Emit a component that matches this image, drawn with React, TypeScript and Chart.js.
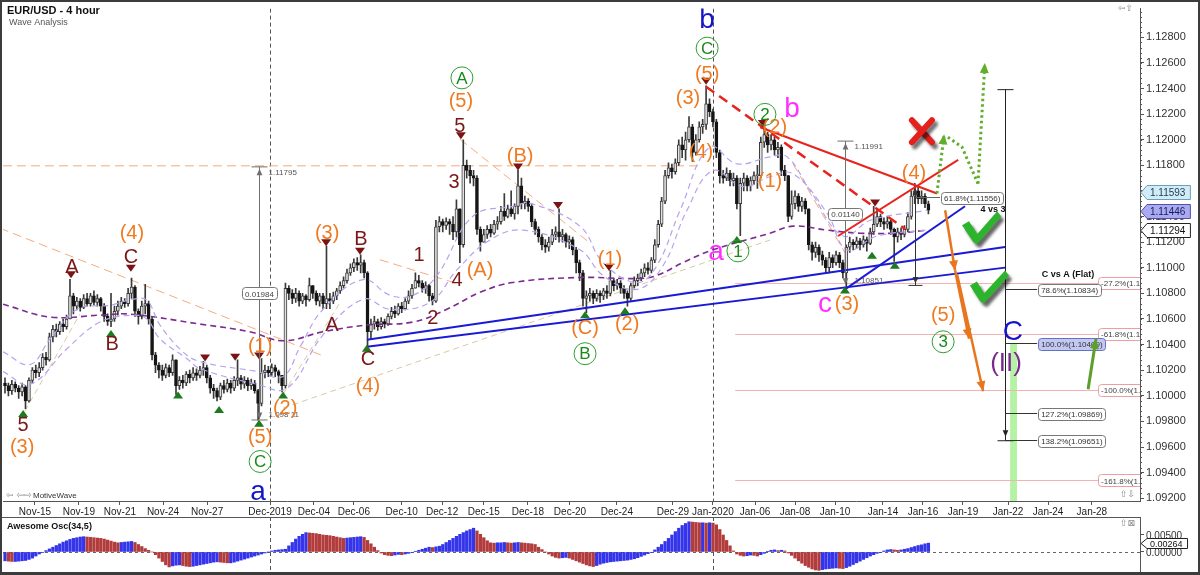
import React, { useEffect, useRef } from "react";
import { Chart, registerables } from "chart.js";

Chart.register(...registerables);

// ---------------- DATA (prices in pips above 1.10000) ----------------
const BASE = 1.1;
const PIP = 0.0001;
const FIRST_OPEN = 10;

const CLOSE = [
  8, 4, 9, 6, 3, 7, -4, 12, 20, 18,
  22, 30, 28, 46, 52, 50, 56, 54, 60, 78,
  70, 74, 69, 76, 72, 78, 73, 76, 70, 62,
  58, 60, 66, 70, 74, 72, 80, 85, 66, 62,
  70, 72, 60, 32, 24, 20, 16, 22, 18, 28,
  8, 12, 10, 17, 14, 18, 16, 20, 22, 14,
  6, 4, -1, 8, 5, 10, 6, 12, 14, 9,
  12, 8, 10, 4, -6, 18, 20, 18, 22, 19,
  16, 8, 84, 80, 76, 80, 74, 78, 75, 86,
  80, 74, 78, 72, 76, 74, 78, 82, 86, 90,
  96, 100, 104, 102, 104, 96, 50, 56, 58, 54,
  58, 56, 62, 66, 64, 70, 68, 74, 78, 84,
  90, 88, 84, 86, 78, 74, 132, 136, 133, 136,
  134, 128, 146, 118, 180, 176, 172, 170, 130, 120,
  126, 130, 127, 134, 136, 144, 140, 146, 142, 148,
  164, 150, 152, 148, 136, 130, 124, 118, 116, 120,
  126, 128, 124, 126, 120, 122, 114, 104, 96, 76,
  78, 80, 76, 80, 78, 82, 80, 90, 86, 88,
  84, 80, 76, 86, 90, 92, 96, 100, 98, 106,
  118, 134, 152, 172, 178, 175, 182, 196, 192, 200,
  210, 190, 200, 210, 212, 228, 222, 214, 190, 172,
  170, 174, 168, 170, 150, 166, 170, 164, 168, 172,
  172, 198, 204, 196, 200, 192, 194, 176, 172, 140,
  150, 156, 148, 152, 146, 118, 112, 116, 110, 106,
  100, 108, 104, 110, 104, 96, 116, 120, 118, 121,
  118, 122, 119, 128, 134, 140, 136, 134, 136, 130,
  124, 128, 126, 130, 140, 156, 160, 154, 156, 150, 145,
];
const HIGH = [
  14, 10, 12, 11, 8, 10, 8, 14, 22, 24,
  26, 33, 34, 49, 55, 56, 58, 60, 63, 91,
  80, 77, 76, 79, 80, 80, 82, 79, 77, 72,
  64, 80, 70, 74, 77, 76, 84, 92, 86, 68,
  74, 87, 74, 62, 34, 26, 24, 25, 24, 32,
  28, 15, 16, 19, 20, 22, 21, 23, 27, 24,
  16, 9, 6, 10, 12, 13, 12, 15, 28, 16,
  15, 14, 13, 12, 5, 29, 24, 23, 25, 24,
  20, 16, 88, 86, 83, 84, 82, 80, 79, 92,
  84, 82, 80, 80, 117, 80, 81, 84, 89, 93,
  99, 103, 107, 108, 110, 106, 97, 60, 62, 60,
  61, 60, 64, 69, 70, 72, 73, 76, 82, 87,
  96, 94, 90, 89, 87, 80, 137, 140, 138, 139,
  138, 140, 153, 146, 200, 184, 180, 176, 172, 132,
  130, 133, 134, 137, 140, 148, 158, 149, 160, 150,
  176, 170, 156, 154, 150, 138, 132, 126, 122, 124,
  130, 132, 146, 130, 127, 125, 124, 116, 106, 98,
  82, 84, 82, 83, 82, 84, 86, 98, 92, 91,
  90, 86, 82, 88, 93, 95, 99, 103, 104, 108,
  122, 137, 155, 176, 182, 181, 185, 200, 202, 206,
  218, 212, 204, 214, 216, 242, 232, 224, 216, 192,
  176, 178, 176, 174, 172, 170, 174, 172, 171, 175,
  180, 202, 210, 206, 204, 202, 198, 196, 180, 172,
  160, 160, 158, 155, 154, 146, 120, 120, 118, 113,
  108, 112, 110, 113, 112, 106, 118, 124, 122, 124,
  123, 125, 124, 131, 148, 146, 142, 139, 140, 138,
  131, 131, 131, 133, 143, 160, 166, 163, 160, 158, 152,
];
const LOW = [
  2, 0, 1, 3, -2, 0, -10, -5, 10, 14,
  15, 20, 24, 27, 42, 46, 48, 50, 52, 60,
  64, 67, 66, 68, 70, 70, 71, 70, 66, 58,
  55, 54, 58, 63, 68, 69, 70, 76, 62, 56,
  60, 64, 56, 28, 18, 14, 12, 14, 15, 16,
  1, 5, 6, 8, 10, 12, 12, 14, 16, 10,
  2, -2, -4, -3, 2, 3, 2, 4, 8, 5,
  6, 4, 5, 2, -19, -8, 14, 15, 16, 15,
  10, 3, 6, 75, 72, 73, 70, 72, 70, 74,
  76, 71, 70, 68, 68, 68, 72, 75, 80, 84,
  88, 94, 97, 98, 96, 92, 38, 44, 52, 51,
  52, 53, 55, 60, 61, 63, 65, 67, 72, 76,
  84, 85, 81, 80, 74, 71, 73, 128, 128, 130,
  126, 122, 124, 104, 116, 170, 166, 164, 126, 113,
  120, 123, 124, 126, 130, 134, 137, 139, 140, 138,
  142, 146, 146, 144, 132, 126, 120, 114, 112, 113,
  118, 122, 120, 120, 116, 115, 110, 96, 90, 70,
  65, 74, 72, 74, 73, 75, 76, 78, 82, 83,
  80, 76, 70, 74, 84, 86, 90, 93, 95, 96,
  104, 116, 132, 150, 170, 170, 173, 180, 186, 184,
  198, 183, 188, 198, 205, 208, 218, 210, 186, 166,
  166, 168, 164, 164, 146, 125, 160, 160, 160, 165,
  162, 170, 194, 190, 192, 188, 186, 172, 168, 136,
  138, 146, 144, 144, 142, 114, 106, 108, 105, 102,
  96, 96, 100, 102, 100, 92, 85, 112, 114, 115,
  114, 116, 113, 118, 126, 132, 132, 130, 131, 126,
  105, 120, 122, 124, 128, 138, 150, 150, 150, 147, 142,
];

// Awesome Oscillator (34,5), units of 0.0001
const AO = [
  -26, -27, -28, -28, -27, -26, -25, -22, -18, -12, -6,
  -1, 4, 9, 14, 19, 24, 29, 33, 37, 40, 42, 44, 45,
  44, 43, 42, 41, 40,
  38, 35, 32, 29, 27,
  28, 29, 30, 31, 28,
  22, 16, 10, 5, 0,
  -8, -18, -28, -38, -44,
  -41, -39, -38,
  -40, -42, -43, -42,
  -40, -38, -36, -34, -32, -30, -29,
  -30, -31, -32, -32,
  -30, -27, -24, -21, -18, -15, -12, -9, -6, -3, 0,
  3, 5, 6, 7, 8,
  18, 28, 38, 46, 52, 57,
  56, 55, 54, 52, 50, 49, 48, 46, 44, 42, 40,
  41, 42, 43, 44, 45, 43,
  34, 24, 14, 4,
  -3, -8, -10, -11, -9, -7, -8, -6, -4, -1,
  2, 5, 8, 11, 14, 13, 15, 17,
  22, 28, 34, 40, 46, 52, 57, 62, 66, 70,
  62, 52, 42, 33, 27,
  26, 27, 27, 28, 27, 26, 27, 28, 27, 26, 25, 24, 22,
  14, 7, 0,
  -6, -12, -16, -18, -17, -16, -18, -22, -26, -30, -34, -38, -41, -43, -40, -36,
  -33, -31, -29, -28, -27, -26, -25, -24, -22, -20, -17, -13, -9, -5, -1,
  6, 14, 22, 31, 40, 50, 60, 70, 78, 84, 89,
  88, 87, 86, 86, 85, 86, 85, 80,
  66, 50, 34, 18, 3,
  -6, -10, -12, -11, -9, -10, -12, -8, -4,
  2, 5, 6, 4, 5, 3,
  -3, -10, -18, -26, -33, -40, -45, -50, -53, -54,
  -52, -50, -49, -48, -47, -48, -49, -46,
  -42, -37, -32, -27, -22, -17, -12, -8, -4, -1,
  3, 6, 7, 6, 5, 6, 8, 10, 13, 16, 19, 21, 24, 26,
];

const X_TICK_POS = [8.76, 21.6, 33.6, 46.2, 59.1, 77.5, 90.3, 102, 116, 127.8, 140, 152.9, 165.2, 178.9, 195.3, 207, 219.3, 231, 242.7, 256.7, 268.4, 280.1, 293.3, 305, 317.8];
const X_TICK_LABELS = ["Nov-15", "Nov-19", "Nov-21", "Nov-24", "Nov-27", "Dec-2019", "Dec-04", "Dec-06", "Dec-10", "Dec-12", "Dec-15", "Dec-18", "Dec-20", "Dec-24", "Dec-29", "Jan-2020", "Jan-06", "Jan-08", "Jan-10", "Jan-14", "Jan-16", "Jan-19", "Jan-22", "Jan-24", "Jan-28"];
const Y_TICKS = [1.092, 1.094, 1.096, 1.098, 1.1, 1.102, 1.104, 1.106, 1.108, 1.11, 1.112, 1.114, 1.116, 1.118, 1.12, 1.122, 1.124, 1.126, 1.128];
const AO_TICKS = [0, 0.005];
const PRICE_TAGS = [1.11593, 1.11446, 1.11294];
const AO_TAG = 0.00264;

// moving averages: [bar index, pips]
const MA_SLOW = [[-0.6, 71.5], [13.2, 61.5], [27.8, 63], [36.5, 63.8], [57, 56], [71.6, 50], [81.3, 43], [93, 50], [105.8, 55.3], [119.3, 57.6], [129.2, 67.6], [138.9, 80.8], [148.5, 88.5], [168.1, 92.4], [184.8, 91.6], [190.6, 94], [198.2, 104], [207, 114], [223.7, 127], [230.4, 132.5], [240.4, 129.4], [250, 127], [259.6, 127], [269.9, 129.4]];
const MA_UPPER = [[-0.6, 34.4], [7.3, 24.4], [13.2, 44.5], [21.1, 67.6], [30.7, 70.7], [37.4, 75.4], [41.5, 74.6], [45.3, 55.3], [52, 34.4], [57, 26.7], [73.7, 19], [81.3, 15.1], [86.3, 38.3], [93, 67.6], [104.7, 90.8], [112.6, 78.5], [119.3, 78.5], [126.3, 93.9], [136.8, 140.2], [148.5, 148], [153.5, 150.3], [168.1, 132.5], [174.9, 104], [184.8, 88.5], [190.6, 101.6], [197.4, 144.9], [206.1, 194.3], [214, 181.2], [223.7, 186.6], [228.7, 186.6], [235.4, 160.3], [245.1, 124.8], [253, 137.1], [269.6, 144.9]];
const MA_LOWER = [[-0.6, 19], [7.3, 9], [18.1, 36.8], [27.8, 57.6], [37.4, 63], [41.5, 59.9], [45.3, 44.5], [53.2, 29], [57, 21.3], [73.7, 9], [82.5, 5.9], [93, 47.6], [104.7, 75.4], [112.6, 67.6], [124.3, 73], [132.2, 98.5], [141.8, 121.7], [151.5, 129.4], [168.1, 114], [174.9, 93.9], [184.8, 83.1], [192.4, 101.6], [199.4, 144.9], [207, 175.8], [215.8, 163.4], [223.7, 171.1], [230.4, 173.4], [240.4, 142.5], [246.2, 114], [255, 124.8], [269.6, 129.4]];

// trend lines: [[index, pips], [index, pips]]
const PEACH_LINES = [
  [[-0.6, 179.6], [203.2, 179.6]],
  [[-1.5, 130.9], [93.6, 30.6]],
  [[133, 200.5], [171, 119.4]],
  [[109.6, 106.3], [133, 87]],
  [[230.4, 181.2], [245.6, 111.7]],
];
const TAN_LINES = [
  [[81.3, -9.6], [223.7, 121.7]],
  [[5.8, -12], [21.9, 63.8]],
  [[81.3, 1.2], [98, 73]],
];
const RED_DASHED = [[[205, 241.4], [263.2, 130.2]]];
const RED_LINES = [[[220.8, 209.7], [272.5, 158]], [[243.6, 124.8], [278.7, 184.2]]];
const BLUE_LINES = [[[105.8, 43.7], [292.4, 116.3]], [[105.8, 38.3], [292.4, 100.1]], [[245.6, 83.1], [280.7, 148]]];

const ORANGE_ARROWS = [[[274.9, 144.9], [277.8, 97.8]], [[277.8, 97.8], [281.9, 44.5]], [[278.4, 94.7], [286, 3.6]]];
const GREEN_DOTTED = [[[272.5, 158], [274.6, 204.3]], [[275.7, 202], [279.8, 194.3], [284.5, 165.7]], [[284.5, 165.7], [286.5, 259.9]]];
const GREEN_DOTTED_HEADS = [true, false, true];
const GREEN_ARROW = [[316.7, 5.1], [319, 44.5]];
const CHECKS = [[[281, 134], [284, 120.9], [290.4, 141]], [[283.3, 87], [286, 74.6], [292.7, 94.7]]];
const RED_X = [268.1, 206.6];

const LOW_MARKS = [[5.3, -14.2], [31.0, 48.3], [50.6, 0.3], [62.6, -11.1], [74.3, -21.9], [81.3, 0.3], [105.8, 36.8], [169.6, 63], [181.3, 66.1], [214, 121.7], [245.6, 82.3], [253.5, 109.3], [260.2, 101.6]];
const HIGH_MARKS = [[19.3, 95], [36.8, 100], [58.5, 30], [67.3, 30.5], [74.3, 31.5], [93.9, 120], [103.8, 113.2], [133.3, 203.5], [150, 179], [161.7, 149], [176.6, 100.5], [205, 246], [221.6, 213], [254.4, 151]];

const ORANGE_LABELS = [["(3)", 5.0, -40.5], ["(4)", 37.1, 127], ["(1)", 74.6, 38.3], ["(2)", 81.9, -9.6], ["(5)", 74.6, -32.7], ["(3)", 94.2, 127], ["(4)", 106.1, 7.4], ["(5)", 133.3, 229.8], ["(A)", 138.9, 97.8], ["(B)", 150.6, 186.6], ["(C)", 169.6, 52.2], ["(1)", 176.9, 106.3], ["(2)", 181.9, 56], ["(3)", 199.7, 232.1], ["(4)", 203.5, 190.4], ["(5)", 205.3, 250.7], ["(2)", 225.1, 209.7], ["(1)", 223.7, 167.3], ["(3)", 246.2, 71.5], ["(4)", 265.8, 173.4], ["(5)", 274.3, 63]];
const MAROON_LABELS = [["5", 5.3, -23.5], ["A", 19.6, 100], ["B", 31.3, 40], ["C", 36.8, 108], ["B", 104.1, 121.7], ["A", 95.6, 55.3], ["C", 106.1, 28.3], ["1", 121.1, 109.3], ["2", 125.1, 60], ["3", 131.3, 166.5], ["4", 132.2, 90], ["5", 133.0, 210.5]];
const GREEN_LABELS = [["C", 74.6, -51.3], ["A", 133.6, 248.3], ["B", 169.6, 32.9], ["C", 205.3, 271.5], ["1", 214.3, 113.2], ["2", 222.2, 219.8], ["3", 274.3, 42.2]];
const MAGENTA_LABELS = [["a", 207.9, 111.7], ["b", 230.1, 223.6], ["c", 239.8, 71.5]];
const BLUE_LABELS = [["b", 205.3, 293.1], ["a", 74.0, -75.2], ["C", 294.7, 49.9]];
const PURPLE_LABELS = [["(II)", 292.7, 25.2]];
const NOTE_LABELS = [["4 vs 3", 288.9, 145.6], ["C vs A (Flat)", 310.8, 94.7]];

const MEASURES = [
  { i: 74.3, top: 178.8, bot: -18.1, box: "0.01984", boxP: 80, topTxt: "1.11795", botTxt: "1.098 11" },
  { i: 245.6, top: 198.9, bot: 86.9, box: "0.01140", boxP: 141.8, topTxt: "1.11991", botTxt: "1.10851" },
];
const RETRACE_TOOL = { i: 266.1, top: 161.9, bot: 86.2, lvl: 155.6, end: 273.4, text: "61.8%(1.11556)" };
const FIB_TOOL = { i: 292.4, top: 239.1, bot: -35.1, end: 301.8 };
const FIB_TOOL_LEVELS = [83.4, 40.9, -13.1, -34.9];
const FIB_TOOL_TEXT = ["78.6%(1.10834)", "100.0%(1.10409)", "127.2%(1.09869)", "138.2%(1.09651)"];
const FIB_EXT_LEVELS = [87.9, 48.3, 4.6, -66.1];
const FIB_EXT_TEXT = ["-27.2%(1.10879)", "-61.8%(1.10483)", "-100.0%(1.10046)", "-161.8%(1.09339)"];
const FIB_EXT_START = 213.5;
const FIB_EXT_LABEL = 319.6;
const TARGET_BAND = [293.9, 295.9, 40.9];

// ---------------- layout constants ----------------
const FONT = '"Liberation Sans", Arial, Helvetica, sans-serif';
const X_MIN = -0.585;
const X_MAX = 331.87;
const Y_MIN = 1.091784;
const Y_MAX = 1.13024;
const AO_MIN = -0.0059;
const AO_MAX = 0.0103;

const pr = (p: number) => BASE + p * PIP;

function buildCandles() {
  const wick: any[] = [];
  const body: any[] = [];
  const bg: string[] = [];
  const bd: string[] = [];
  let prev = FIRST_OPEN;
  for (let k = 0; k < CLOSE.length; k++) {
    const o = prev;
    const c = CLOSE[k];
    const h = Math.max(HIGH[k], o, c);
    const l = Math.min(LOW[k], o, c);
    wick.push({ x: k, y: [pr(l), pr(h)] });
    body.push({ x: k, y: [pr(o), pr(c)] });
    const up = c >= o;
    bg.push(up ? "#e2e2e2" : "#151515");
    bd.push(up ? "#3a3a3a" : "#151515");
    prev = c;
  }
  return { wick, body, bg, bd };
}

function pathLine(ctx: any, pts: number[][]) {
  ctx.beginPath();
  pts.forEach((p, k) => (k === 0 ? ctx.moveTo(p[0], p[1]) : ctx.lineTo(p[0], p[1])));
  ctx.stroke();
}

function arrowHead(ctx: any, x1: number, y1: number, x2: number, y2: number, size: number, color: string) {
  const a = Math.atan2(y2 - y1, x2 - x1);
  ctx.save();
  ctx.setLineDash([]);
  ctx.fillStyle = color;
  ctx.beginPath();
  ctx.moveTo(x2, y2);
  ctx.lineTo(x2 - size * Math.cos(a - 0.42), y2 - size * Math.sin(a - 0.42));
  ctx.lineTo(x2 - size * Math.cos(a + 0.42), y2 - size * Math.sin(a + 0.42));
  ctx.closePath();
  ctx.fill();
  ctx.restore();
}

function rrect(ctx: any, x: number, y: number, w: number, h: number, r: number) {
  ctx.beginPath();
  ctx.moveTo(x + r, y);
  ctx.lineTo(x + w - r, y);
  ctx.quadraticCurveTo(x + w, y, x + w, y + r);
  ctx.lineTo(x + w, y + h - r);
  ctx.quadraticCurveTo(x + w, y + h, x + w - r, y + h);
  ctx.lineTo(x + r, y + h);
  ctx.quadraticCurveTo(x, y + h, x, y + h - r);
  ctx.lineTo(x, y + r);
  ctx.quadraticCurveTo(x, y, x + r, y);
  ctx.closePath();
}

function box(ctx: any, x: number, y: number, text: string, fill: string, stroke: string, color: string, centered: boolean) {
  ctx.save();
  ctx.setLineDash([]);
  ctx.font = `8px ${FONT}`;
  const w = ctx.measureText(text).width + 6;
  const h = 12;
  const left = centered ? x - w / 2 : x;
  rrect(ctx, Math.round(left) + 0.5, Math.round(y - h / 2) + 0.5, Math.round(w), h, 3);
  ctx.fillStyle = fill;
  ctx.fill();
  ctx.strokeStyle = stroke;
  ctx.lineWidth = 1;
  ctx.stroke();
  ctx.fillStyle = color;
  ctx.textAlign = "left";
  ctx.textBaseline = "middle";
  ctx.fillText(text, left + 3, y + 1);
  ctx.restore();
}

function axisTag(ctx: any, x: number, y: number, text: string, fill: string, stroke: string, color: string, size = 10, half = 7) {
  ctx.save();
  ctx.font = `${size}px ${FONT}`;
  const w = ctx.measureText(text).width + 8;
  ctx.beginPath();
  ctx.moveTo(x, y);
  ctx.lineTo(x + 6, y - half);
  ctx.lineTo(x + 6 + w, y - half);
  ctx.lineTo(x + 6 + w, y + half);
  ctx.lineTo(x + 6, y + half);
  ctx.closePath();
  ctx.fillStyle = fill;
  ctx.fill();
  ctx.strokeStyle = stroke;
  ctx.lineWidth = 1;
  ctx.stroke();
  ctx.fillStyle = color;
  ctx.textAlign = "left";
  ctx.textBaseline = "middle";
  ctx.fillText(text, x + 9, y + 1);
  ctx.restore();
}

const mainPlugin = {
  id: "waveAnnotations",
  beforeDatasetsDraw(chart: any) {
    const { ctx, chartArea: a, scales } = chart;
    const X = (i: number) => scales.x.getPixelForValue(i);
    const Y = (p: number) => scales.y.getPixelForValue(pr(p));
    ctx.save();
    ctx.beginPath();
    ctx.rect(a.left, a.top, a.right - a.left, a.bottom - a.top);
    ctx.clip();
    ctx.fillStyle = "#b4f2a4";
    const bx1 = X(TARGET_BAND[0]);
    const bx2 = X(TARGET_BAND[1]);
    ctx.fillRect(bx1, Y(TARGET_BAND[2]), bx2 - bx1, a.bottom - Y(TARGET_BAND[2]));
    ctx.strokeStyle = "#f3b3b3";
    ctx.lineWidth = 1;
    FIB_EXT_LEVELS.forEach((p) => {
      const yy = Math.round(Y(p)) + 0.5;
      pathLine(ctx, [[X(FIB_EXT_START), yy], [a.right, yy]]);
    });
    ctx.strokeStyle = "#555";
    ctx.setLineDash([4, 3]);
    [X_TICK_POS[5], X_TICK_POS[15]].forEach((i) => {
      const xx = Math.round(X(i)) + 0.5;
      pathLine(ctx, [[xx, a.top], [xx, a.bottom]]);
    });
    ctx.restore();
  },
  afterDatasetsDraw(chart: any) {
    const { ctx, chartArea: a, scales } = chart;
    const X = (i: number) => scales.x.getPixelForValue(i);
    const Y = (p: number) => scales.y.getPixelForValue(pr(p));
    ctx.save();
    ctx.beginPath();
    ctx.rect(a.left, a.top, a.right - a.left, a.bottom - a.top);
    ctx.clip();

    FIB_EXT_LEVELS.forEach((p, k) => box(ctx, X(FIB_EXT_LABEL), Y(p), FIB_EXT_TEXT[k], "#fff", "#eaa0a0", "#444", false));

    LOW_MARKS.forEach(([i, p]) => {
      const x = X(i), y = Y(p);
      ctx.fillStyle = "#1d7a1d";
      ctx.beginPath();
      ctx.moveTo(x, y - 4);
      ctx.lineTo(x + 5, y + 3);
      ctx.lineTo(x - 5, y + 3);
      ctx.closePath();
      ctx.fill();
    });
    HIGH_MARKS.forEach(([i, p]) => {
      const x = X(i), y = Y(p);
      ctx.fillStyle = "#7a1414";
      ctx.beginPath();
      ctx.moveTo(x, y + 4);
      ctx.lineTo(x + 5, y - 3);
      ctx.lineTo(x - 5, y - 3);
      ctx.closePath();
      ctx.fill();
    });

    ctx.lineWidth = 1;
    MEASURES.forEach((m) => {
      const mx = Math.round(X(m.i)) + 0.5;
      const y1 = Y(m.top), y2 = Y(m.bot);
      ctx.strokeStyle = "#707070";
      ctx.setLineDash([]);
      pathLine(ctx, [[mx, y1], [mx, y2]]);
      pathLine(ctx, [[mx - 8, y1], [mx + 8, y1]]);
      arrowHead(ctx, mx, y1 + 12, mx, y1 + 2, 7, "#707070");
      arrowHead(ctx, mx, y2 - 12, mx, y2, 7, "#707070");
      if (m.bot < 0) pathLine(ctx, [[mx - 8, y2 + 1], [mx + 8, y2 + 1]]);
      box(ctx, mx, Y(m.boxP), m.box, "#fff", "#777", "#444", true);
      ctx.font = `8px ${FONT}`;
      ctx.fillStyle = "#555";
      ctx.textAlign = "left";
      ctx.textBaseline = "middle";
      ctx.fillText(m.topTxt, mx + 9, y1 + 6);
      ctx.fillText(m.botTxt, mx + 9, y2 - 4);
    });
    {
      const t = RETRACE_TOOL;
      const mx = Math.round(X(t.i)) + 0.5;
      const y1 = Y(t.top), y2 = Y(t.bot);
      ctx.strokeStyle = "#333";
      pathLine(ctx, [[mx, y1], [mx, y2]]);
      pathLine(ctx, [[mx - 7, y2], [mx + 7, y2]]);
      arrowHead(ctx, mx, y1 + 12, mx, y1, 7, "#333");
      arrowHead(ctx, mx, y2 - 12, mx, y2 - 2, 7, "#333");
      const ly = Math.round(Y(t.lvl)) + 0.5;
      ctx.strokeStyle = "#666";
      pathLine(ctx, [[mx, ly], [X(t.end), ly]]);
      box(ctx, X(t.end) + 1, ly, t.text, "#fff", "#777", "#333", false);
    }
    {
      const f = FIB_TOOL;
      const mx = Math.round(X(f.i)) + 0.5;
      const y1 = Y(f.top), y2 = Y(f.bot);
      ctx.strokeStyle = "#222";
      pathLine(ctx, [[mx, y1], [mx, y2]]);
      pathLine(ctx, [[mx - 8, y1], [mx + 8, y1]]);
      pathLine(ctx, [[mx - 8, y2], [mx + 8, y2]]);
      arrowHead(ctx, mx, y2 - 14, mx, y2 - 4, 7, "#222");
      FIB_TOOL_LEVELS.forEach((p, k) => {
        const ly = Math.round(Y(p)) + 0.5;
        ctx.strokeStyle = "#333";
        pathLine(ctx, [[mx, ly], [X(f.end), ly]]);
        const hi = k === 1;
        box(ctx, X(f.end) + 1, ly, FIB_TOOL_TEXT[k], hi ? "#c3c8f3" : "#fff", hi ? "#6670c0" : "#777", "#333", false);
      });
    }

    ctx.strokeStyle = "#e8761f";
    ctx.lineWidth = 2.5;
    ctx.setLineDash([]);
    ORANGE_ARROWS.forEach((seg) => {
      const pts = seg.map(([i, p]) => [X(i), Y(p)]);
      pathLine(ctx, pts);
      const n = pts.length;
      arrowHead(ctx, pts[n - 2][0], pts[n - 2][1], pts[n - 1][0], pts[n - 1][1], 11, "#e8761f");
    });

    ctx.strokeStyle = "#62ad2c";
    ctx.lineWidth = 3;
    GREEN_DOTTED.forEach((seg, k) => {
      const pts = seg.map(([i, p]) => [X(i), Y(p)]);
      ctx.setLineDash([2.5, 3]);
      pathLine(ctx, pts);
      const n = pts.length;
      if (GREEN_DOTTED_HEADS[k]) arrowHead(ctx, pts[n - 2][0], pts[n - 2][1], pts[n - 1][0], pts[n - 1][1], 11, "#62ad2c");
    });
    ctx.setLineDash([]);
    {
      const pts = GREEN_ARROW.map(([i, p]) => [X(i), Y(p)]);
      ctx.strokeStyle = "#5e9e2a";
      ctx.lineWidth = 3;
      pathLine(ctx, pts);
      arrowHead(ctx, pts[0][0], pts[0][1], pts[1][0], pts[1][1], 11, "#5e9e2a");
    }

    CHECKS.forEach((c) => {
      const pts = c.map(([i, p]) => [X(i), Y(p)]);
      ctx.save();
      ctx.shadowColor = "rgba(0,0,0,0.6)";
      ctx.shadowBlur = 3;
      ctx.shadowOffsetX = 3;
      ctx.shadowOffsetY = 4;
      ctx.fillStyle = "#2cb52c";
      const [p0, p1, p2] = pts;
      ctx.beginPath();
      ctx.moveTo(p0[0] - 4, p0[1] + 1);
      ctx.lineTo(p0[0] + 3, p0[1] - 3);
      ctx.lineTo(p1[0] + 1, p1[1] - 7);
      ctx.lineTo(p2[0] - 1, p2[1] - 4);
      ctx.lineTo(p2[0] + 3, p2[1] + 1);
      ctx.lineTo(p1[0] + 1, p1[1] + 3);
      ctx.lineTo(p1[0] - 3, p1[1] + 1);
      ctx.closePath();
      ctx.fill();
      ctx.restore();
    });

    {
      const cx = X(RED_X[0]), cy = Y(RED_X[1]);
      ctx.save();
      ctx.shadowColor = "rgba(0,0,0,0.55)";
      ctx.shadowBlur = 3;
      ctx.shadowOffsetX = 3;
      ctx.shadowOffsetY = 4;
      ctx.strokeStyle = "#e3201b";
      ctx.lineWidth = 6;
      ctx.lineCap = "round";
      pathLine(ctx, [[cx - 10, cy - 11], [cx + 10, cy + 11]]);
      pathLine(ctx, [[cx + 10, cy - 11], [cx - 10, cy + 11]]);
      ctx.restore();
    }

    const label = (t: string, i: number, p: number, color: string, size: number, bold = false) => {
      ctx.font = `${bold ? "bold " : ""}${size}px ${FONT}`;
      ctx.fillStyle = color;
      ctx.textAlign = "center";
      ctx.textBaseline = "middle";
      ctx.fillText(t, X(i), Y(p));
    };
    ORANGE_LABELS.forEach(([t, i, p]: any) => label(t, i, p, "#f07a20", 20));
    MAROON_LABELS.forEach(([t, i, p]: any) => label(t, i, p, "#7b1616", 20));
    GREEN_LABELS.forEach(([t, i, p]: any) => {
      ctx.strokeStyle = "#2f9e2f";
      ctx.lineWidth = 1;
      ctx.beginPath();
      ctx.arc(X(i), Y(p), 11, 0, Math.PI * 2);
      ctx.stroke();
      label(t, i, p - 0.8, "#178a17", 17);
    });
    MAGENTA_LABELS.forEach(([t, i, p]: any) => label(t, i, p, "#ff30ff", 28));
    BLUE_LABELS.forEach(([t, i, p]: any) => label(t, i, p, "#1515c8", 28));
    PURPLE_LABELS.forEach(([t, i, p]: any) => label(t, i, p, "#7a2a8a", 26));
    NOTE_LABELS.forEach(([t, i, p]: any) => label(t, i, p, "#111", 9, true));

    ctx.restore();
  },
  afterDraw(chart: any) {
    const { ctx, chartArea: a, scales, width, height } = chart;
    ctx.save();
    ctx.strokeStyle = "#555";
    ctx.lineWidth = 1;
    for (let v = 1.092; v <= 1.1302; v += 0.0004) {
      const y = Math.round(scales.y.getPixelForValue(v)) + 0.5;
      if (y < a.top || y > a.bottom) continue;
      pathLine(ctx, [[a.right, y], [a.right + 2, y]]);
    }
    const tagStyles = [["#d2ecf7", "#6d9fb8", "#1a3a55"], ["#aaaaf0", "#5050b0", "#1a1a60"], ["#ffffff", "#222", "#111"]];
    PRICE_TAGS.forEach((v, k) => axisTag(ctx, a.right + 1, Math.round(scales.y.getPixelForValue(v)) + 0.5, v.toFixed(5), tagStyles[k][0], tagStyles[k][1], tagStyles[k][2]));
    ctx.fillStyle = "#111";
    ctx.font = `bold 11px ${FONT}`;
    ctx.textAlign = "left";
    ctx.textBaseline = "middle";
    ctx.fillText("EUR/USD - 4 hour", 7, 11);
    ctx.fillStyle = "#555";
    ctx.font = `9px ${FONT}`;
    ctx.fillText("Wave Analysis", 9, 23);
    ctx.fillStyle = "#333";
    ctx.font = `8px ${FONT}`;
    ctx.fillText("MotiveWave", 33, a.bottom - 5);
    ctx.fillStyle = "#8a8a8a";
    ctx.font = `9px "DejaVu Sans", sans-serif`;
    ctx.fillText("\u21E6 \u21E6\u21E8", 6, a.bottom - 5);
    ctx.fillText("\u21E6\u21E7", a.right - 22, 9);
    ctx.fillText("\u21E7\u21E9", a.right - 20, a.bottom - 6);
    ctx.fillStyle = "#3c3c3c";
    ctx.fillRect(0, 0, width, 2);
    ctx.fillRect(0, 0, 2, height);
    ctx.fillRect(width - 2, 0, 2, height);
    ctx.restore();
  },
};

const aoPlugin = {
  id: "aoDecor",
  beforeDatasetsDraw(chart: any) {
    const { ctx, chartArea: a, scales } = chart;
    ctx.save();
    const y0 = Math.round(scales.y.getPixelForValue(0)) + 0.5;
    ctx.strokeStyle = "#666";
    ctx.lineWidth = 1;
    ctx.setLineDash([3, 3]);
    pathLine(ctx, [[a.left, y0], [a.right, y0]]);
    ctx.setLineDash([4, 3]);
    ctx.strokeStyle = "#555";
    [X_TICK_POS[5], X_TICK_POS[15]].forEach((i) => {
      const xx = Math.round(scales.x.getPixelForValue(i)) + 0.5;
      pathLine(ctx, [[xx, a.top], [xx, a.bottom]]);
    });
    ctx.restore();
  },
  afterDraw(chart: any) {
    const { ctx, chartArea: a, scales, width, height } = chart;
    ctx.save();
    ctx.fillStyle = "#111";
    ctx.font = `bold 9px ${FONT}`;
    ctx.textAlign = "left";
    ctx.textBaseline = "middle";
    ctx.fillText("Awesome Osc(34,5)", 7, 10);
    ctx.fillStyle = "#8a8a8a";
    ctx.font = `9px "DejaVu Sans", sans-serif`;
    ctx.fillText("\u21E7\u22A0", a.right - 20, 7);
    // axis labels
    ctx.fillStyle = "#333";
    ctx.font = `10px ${FONT}`;
    AO_TICKS.forEach((v) => {
      ctx.fillText(v.toFixed(5), a.right + 6, scales.y.getPixelForValue(v) + 1);
    });
    axisTag(ctx, a.right + 1, Math.round(scales.y.getPixelForValue(AO_TAG)) + 0.5, AO_TAG.toFixed(5), "#fff", "#222", "#111", 9, 5);
    ctx.strokeStyle = "#555";
    ctx.lineWidth = 1;
    pathLine(ctx, [[0, 0.5], [a.right, 0.5]]);
    ctx.fillStyle = "#3c3c3c";
    ctx.fillRect(0, height - 3, width, 3);
    ctx.fillRect(0, 0, 2, height);
    ctx.fillRect(width - 2, 0, 2, height);
    ctx.restore();
  },
};

function mainConfig(): any {
  const c = buildCandles();
  const lineDs = (pts: number[][], color: string, width: number, dash: number[], order: number, tension = 0) => ({
    type: "line",
    data: pts.map(([i, p]) => ({ x: i, y: pr(p) })),
    borderColor: color,
    borderWidth: width,
    borderDash: dash,
    pointRadius: 0,
    tension,
    fill: false,
    order,
  });
  const datasets: any[] = [];
  PEACH_LINES.forEach((l) => datasets.push(lineDs(l, "#f4ab80", 1, [9, 5], 20)));
  TAN_LINES.forEach((l) => datasets.push(lineDs(l, "#d8c9a0", 1, [6, 4], 20)));
  datasets.push({ type: "bar", data: c.wick, backgroundColor: "#3a3a3a", barThickness: 1, grouped: false, order: 10 });
  datasets.push({ type: "bar", data: c.body, backgroundColor: c.bg, borderColor: c.bd, borderWidth: 1, borderSkipped: false, barThickness: 3, minBarLength: 1, grouped: false, order: 9 });
  datasets.push(lineDs(MA_UPPER, "#b7a2ee", 1.2, [6, 4], 5, 0.4));
  datasets.push(lineDs(MA_LOWER, "#b7a2ee", 1.2, [6, 4], 5, 0.4));
  datasets.push(lineDs(MA_SLOW, "#7c2c90", 1.6, [6, 4], 5, 0.4));
  BLUE_LINES.forEach((l) => datasets.push(lineDs(l, "#1a1ad6", 2, [], 1)));
  RED_DASHED.forEach((l) => datasets.push(lineDs(l, "#e8231c", 2.5, [10, 6], 1)));
  RED_LINES.forEach((l) => datasets.push(lineDs(l, "#e8231c", 2, [], 1)));

  return {
    type: "bar",
    data: { datasets },
    options: {
      animation: false,
      responsive: false,
      maintainAspectRatio: false,
      layout: { padding: { left: 3, top: 3, right: 0, bottom: 0 } },
      plugins: { legend: { display: false }, tooltip: { enabled: false } },
      scales: {
        x: {
          type: "linear",
          min: X_MIN,
          max: X_MAX,
          offset: false,
          afterBuildTicks: (s: any) => {
            s.ticks = X_TICK_POS.map((v) => ({ value: v }));
          },
          ticks: {
            autoSkip: false,
            maxRotation: 0,
            color: "#222",
            padding: 1,
            font: { size: 10, family: FONT },
            callback: (_v: any, idx: number) => X_TICK_LABELS[idx],
          },
          grid: { drawOnChartArea: false, offset: false, tickLength: 4, color: "#555" },
          border: { display: true, color: "#555" },
          afterFit: (s: any) => {
            s.height = 16;
          },
        },
        y: {
          position: "right",
          min: Y_MIN,
          max: Y_MAX,
          afterBuildTicks: (s: any) => {
            s.ticks = Y_TICKS.map((v) => ({ value: v }));
          },
          ticks: {
            autoSkip: false,
            color: "#333",
            padding: 2,
            font: { size: 11, family: FONT },
            callback: (v: any) => Number(v).toFixed(5),
          },
          grid: { drawOnChartArea: false, tickLength: 4, color: "#555" },
          border: { display: true, color: "#555" },
          afterFit: (s: any) => {
            s.width = 60;
          },
        },
      },
    },
    plugins: [mainPlugin],
  };
}

function aoConfig(): any {
  return {
    type: "bar",
    data: {
      datasets: [
        {
          data: AO.map((v, k) => ({ x: k, y: v * PIP })),
          backgroundColor: AO.map((v, k) => (k === 0 || v >= AO[k - 1] ? "#3434ea" : "#b23b3b")),
          barThickness: 2.6,
          borderWidth: 0,
          grouped: false,
        },
      ],
    },
    options: {
      animation: false,
      responsive: false,
      maintainAspectRatio: false,
      layout: { padding: { left: 3, top: 0, right: 0, bottom: 3 } },
      plugins: { legend: { display: false }, tooltip: { enabled: false } },
      scales: {
        x: { type: "linear", display: false, min: X_MIN, max: X_MAX, offset: false },
        y: {
          position: "right",
          min: AO_MIN,
          max: AO_MAX,
          afterBuildTicks: (s: any) => {
            s.ticks = AO_TICKS.map((v) => ({ value: v }));
          },
          ticks: { display: false },
          grid: { drawOnChartArea: false, tickLength: 4, color: "#555" },
          border: { display: true, color: "#555" },
          afterFit: (s: any) => {
            s.width = 60;
          },
        },
      },
    },
    plugins: [aoPlugin],
  };
}

export default function App() {
  const mainRef = useRef<HTMLCanvasElement>(null);
  const aoRef = useRef<HTMLCanvasElement>(null);
  useEffect(() => {
    const c1 = new Chart(mainRef.current as HTMLCanvasElement, mainConfig());
    const c2 = new Chart(aoRef.current as HTMLCanvasElement, aoConfig());
    return () => {
      c1.destroy();
      c2.destroy();
    };
  }, []);
  return (
    <div style={{ position: "absolute", left: 0, top: 0, width: 1200, height: 575, background: "#fff", overflow: "hidden" }}>
      <canvas ref={mainRef} width={1200} height={517} style={{ position: "absolute", left: 0, top: 0, width: 1200, height: 517 }} />
      <canvas ref={aoRef} width={1200} height={58} style={{ position: "absolute", left: 0, top: 517, width: 1200, height: 58 }} />
    </div>
  );
}
